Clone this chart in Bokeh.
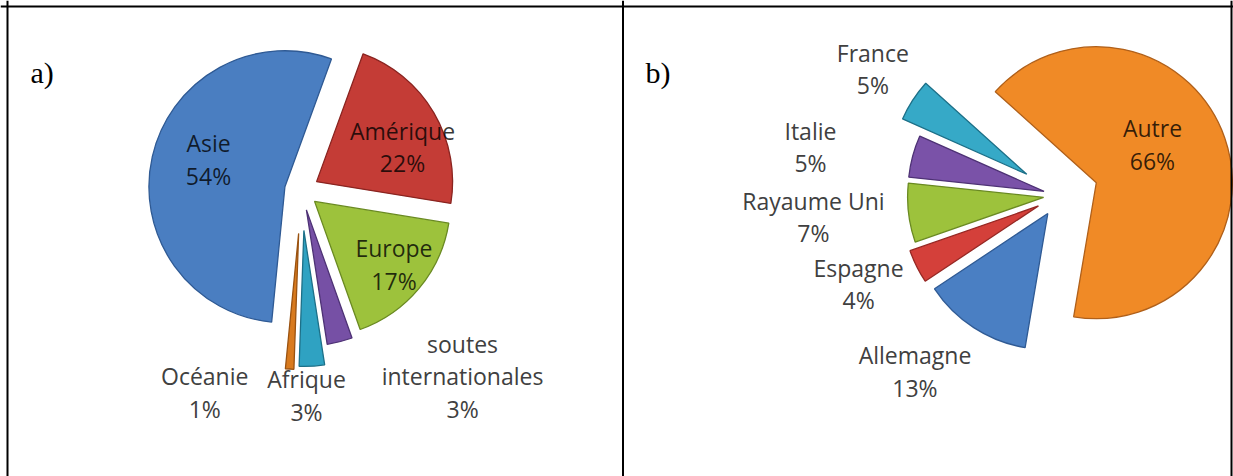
import math
from bokeh.plotting import figure
from bokeh.models import Range1d, Span, ColumnDataSource
from bokeh.embed import file_html
from bokeh.resources import INLINE
from bokeh.core.properties import value

# ---------------- data ----------------
a_labels = ["Amérique", "Europe", "soutes internationales", "Afrique", "Océanie", "Asie"]
a_values = [22, 17, 3, 3, 1, 54]

b_labels = ["Autre", "Allemagne", "Espagne", "Rayaume Uni", "Italie", "France"]
b_values = [66, 13, 4, 7, 5, 5]

# ---------------- style ----------------
a_colors = ["#c43c36", "#9dc23c", "#7650a5", "#2fa2c2", "#d87a1e", "#4a7ec1"]
a_edges = ["#8a2420", "#6a8a22", "#4e3275", "#1d7088", "#9a5210", "#2f5a94"]
a_explode = [17.5, 17, 20, 40, 43, 17]
a_label_r = [110, 118.5, 246, 205, 224, 98]
a_label_dt = [7.1, -1.1, -26.7, 2.0, 21.8, 5.6]
a_inside = [True, True, False, False, False, True]
a_start = 20.0
a_center = (301, 190)

b_colors = ["#f08a26", "#4a7fc3", "#d4403a", "#9dc23c", "#7a52a8", "#36a9c7"]
b_edges = ["#b0601a", "#2f5a94", "#962824", "#6a8a22", "#4e3275", "#1d7088"]
b_explode = [39, 21.5, 23.5, 16, 16, 39]
b_label_r = [106, 227.7, 219.6, 247, 253.7, 225.4]
b_label_dt = [-9.5, 6.4, 2.6, 1.6, -4.0, 1.1]
b_inside = [True, False, False, False, False, False]
b_start = -48.0
b_center = (1059, 195)

RADIUS = 136
W, H = 1233, 476
LINE_GAP = 32.5
FONT = value("Open Sans")


def Y(ref_y):
    return H - ref_y


p = figure(width=W, height=H, output_backend="svg", toolbar_location=None,
           x_range=Range1d(0, W), y_range=Range1d(0, H),
           x_axis_type=None, y_axis_type=None, min_border=0,
           background_fill_color="white", border_fill_color="white")
p.outline_line_color = None
p.grid.visible = False


def draw_pie(labels, values, colors, edges, explode, lab_r, lab_dt, inside, start, center):
    cx, cy = center[0], Y(center[1])
    total = float(sum(values))
    theta = start
    wx, wy, sa, ea, fc, lc = [], [], [], [], [], []
    tx, ty, tt, tcol, talpha = [], [], [], [], []
    for i, v in enumerate(values):
        span = 360.0 * v / total
        t1, t2 = theta, theta + span
        tm = (t1 + t2) / 2.0
        d = explode[i]
        ax = cx + d * math.sin(math.radians(tm))
        ay = cy + d * math.cos(math.radians(tm))
        wx.append(ax); wy.append(ay)
        sa.append(math.radians(90 - t2)); ea.append(math.radians(90 - t1))
        fc.append(colors[i]); lc.append(edges[i])
        la = math.radians(tm + lab_dt[i])
        lx = cx + lab_r[i] * math.sin(la)
        ly = cy + lab_r[i] * math.cos(la)
        name = labels[i]
        lines = name.split(" ") if len(name) > 15 else [name]
        lines = lines + ["%d%%" % round(100 * v / total)]
        n = len(lines)
        for k, s in enumerate(lines):
            tx.append(lx)
            ty.append(ly + (n - 1) / 2.0 * LINE_GAP - k * LINE_GAP)
            tt.append(s)
            tcol.append("#000000" if inside[i] else "#404040")
            talpha.append(0.78 if inside[i] else 1.0)
        theta = t2
    src = ColumnDataSource(dict(x=wx, y=wy, sa=sa, ea=ea, fc=fc, lc=lc))
    p.wedge(x="x", y="y", radius=RADIUS, start_angle="sa", end_angle="ea",
            fill_color="fc", line_color="lc", line_width=1.3, source=src)
    tsrc = ColumnDataSource(dict(x=tx, y=ty, t=tt, c=tcol, a=talpha))
    p.text(x="x", y="y", text="t", text_color="c", text_alpha="a", source=tsrc,
           text_font=FONT, text_font_size="23px", text_align="center",
           text_baseline="middle")


draw_pie(a_labels, a_values, a_colors, a_edges, a_explode, a_label_r, a_label_dt,
         a_inside, a_start, a_center)
draw_pie(b_labels, b_values, b_colors, b_edges, b_explode, b_label_r, b_label_dt,
         b_inside, b_start, b_center)

# panel letters
p.text(x=[30, 645], y=[Y(72), Y(72)], text=["a)", "b)"], text_font=value("Liberation Serif"),
       text_font_size="30px", text_color="black", text_align="left", text_baseline="middle")

# table borders
for loc in [7, 622.5, 1231]:
    p.add_layout(Span(location=loc, dimension="height", line_color="black", line_width=2))
p.add_layout(Span(location=Y(6), dimension="width", line_color="black", line_width=2))

open("out.html", "w").write(file_html(p, INLINE))
